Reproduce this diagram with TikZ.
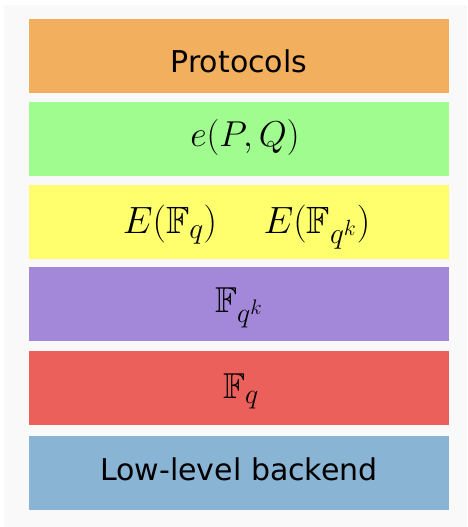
\RequirePackage{fix-cm}
\documentclass[tikz,border=0pt]{standalone}
\usepackage{fontspec}
\usepackage{amssymb}
\newfontfamily\labelfont{DejaVu Sans}
% larger scripts for the big layer formulas
\DeclareMathSizes{36}{36}{28}{21}
\DeclareMathSizes{38}{38}{29.5}{22}

\definecolor{panelbg}{HTML}{F9F9F9}
\definecolor{protocolcol}{HTML}{F2B05E}
\definecolor{pairingcol}{HTML}{A0FC8E}
\definecolor{curvecol}{HTML}{FFFF6E}
\definecolor{extfieldcol}{HTML}{A388DA}
\definecolor{basefieldcol}{HTML}{EC605C}
\definecolor{backendcol}{HTML}{89B4D4}

\tikzset{
  layer/.style={rectangle, draw=none, minimum width=420pt, minimum height=74pt,
    inner sep=0pt, outer sep=0pt},
  wordlabel/.style={anchor=base, inner sep=0pt, font=\labelfont\fontsize{30}{36}\selectfont},
  mathlabel/.style={anchor=base, inner sep=0pt, font=\fontsize{36}{42}\selectfont},
  curvelabel/.style={anchor=base, inner sep=0pt, font=\fontsize{38}{44}\selectfont},
}

\begin{document}
\begin{tikzpicture}[x=1pt,y=-1pt]
  \useasboundingbox (0,0) rectangle (467,527);
  \fill[panelbg] (4,5) rectangle (467,527);

  % stack of layers, top to bottom
  \node[layer, fill=protocolcol]  (protocols) at (239,56)    {};
  \node[layer, fill=pairingcol]   (pairing)   at (239,139)   {};
  \node[layer, fill=curvecol]     (curves)    at (239,221.5) {};
  \node[layer, fill=extfieldcol]  (extfield)  at (239,304)   {};
  \node[layer, fill=basefieldcol] (basefield) at (239,388)   {};
  \node[layer, fill=backendcol]   (backend)   at (239,472.5) {};

  % layer labels
  \node[wordlabel] (protocols-text) at ([yshift=-16pt]protocols.center) {Protocols};
  \node[mathlabel] (pairing-text)   at ([xshift=6pt,yshift=-7pt]pairing.center) {$e(P,Q)$};
  \node[curvelabel] (curve-base)    at ([xshift=-69pt,yshift=-11.5pt]curves.center) {$E(\mathbb{F}_q)$};
  \node[curvelabel] (curve-ext)     at ([xshift=78pt,yshift=-11.5pt]curves.center) {$E(\mathbb{F}_{q^k})$};
  \node[mathlabel] (extfield-text)  at ([yshift=-8pt]extfield.center) {$\mathbb{F}_{q^k}$};
  \node[mathlabel] (basefield-text) at ([xshift=2pt,yshift=-10pt]basefield.center) {$\mathbb{F}_q$};
  \node[wordlabel] (backend-text)   at ([yshift=-7.5pt]backend.center) {Low-level backend};
\end{tikzpicture}
\end{document}
